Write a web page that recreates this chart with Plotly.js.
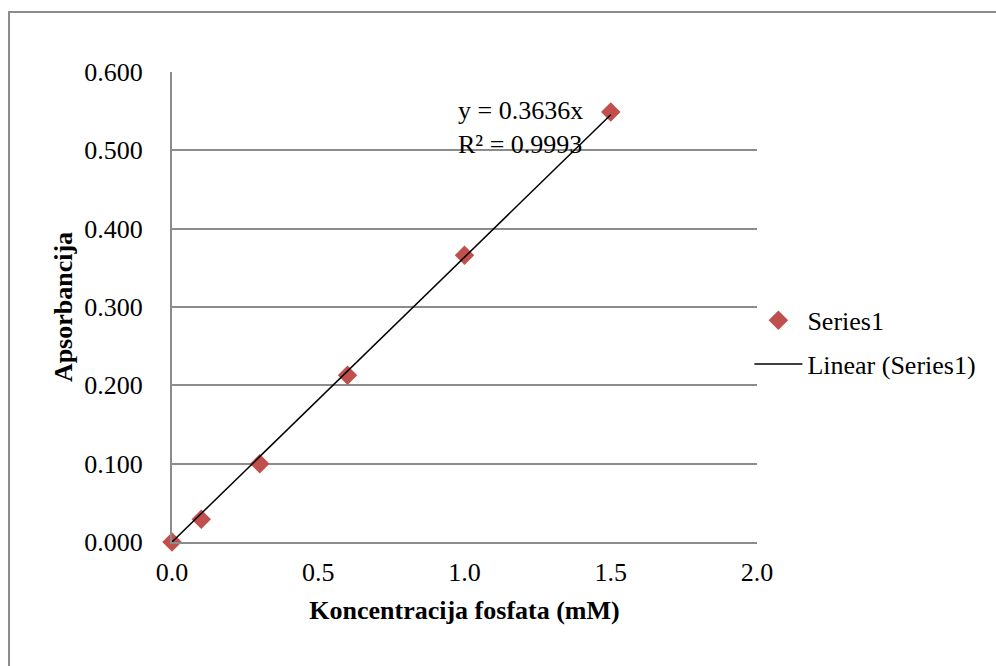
<!DOCTYPE html>
<html>
<head>
<meta charset="utf-8">
<script src="https://cdn.plot.ly/plotly-3.0.1.min.js"></script>
<style>
  html, body { margin: 0; padding: 0; background: #fff; }
  #frame { position: absolute; left: 8px; top: 11px; width: 1100px; height: 800px; border: 2px solid #8c8c8c; box-sizing: border-box; }
  #chart { position: absolute; left: 0; top: 0; width: 996px; height: 666px; }
</style>
</head>
<body>
<div id="frame"></div>
<div id="chart"></div>
<script>
const concentration = [0.0, 0.1, 0.3, 0.6, 1.0, 1.5];
const absorbance = [0.000, 0.029, 0.100, 0.213, 0.366, 0.549];
const slope = 0.3636;
const r2 = 0.9993;
const xTicks = [0.0, 0.5, 1.0, 1.5, 2.0];
const yTicks = [0.0, 0.1, 0.2, 0.3, 0.4, 0.5, 0.6];

const fitX = [0, Math.max(...concentration)];
const fitY = fitX.map(x => slope * x);

const font = '"Liberation Serif", "Times New Roman", serif';
const fs = 26;

const traces = [
  {
    x: concentration, y: absorbance, type: 'scatter', mode: 'markers', name: 'Series1',
    legendgroup: 'a', cliponaxis: false,
    marker: { symbol: 'diamond', size: 15, color: '#C0504D' }
  },
  {
    x: fitX, y: fitY, type: 'scatter', mode: 'lines', name: 'Linear (Series1)',
    legendgroup: 'b', cliponaxis: false,
    line: { color: '#000000', width: 1.5 }
  }
];

const layout = {
  width: 996, height: 666,
  margin: { l: 172, r: 239, t: 72, b: 124 },
  paper_bgcolor: 'rgba(0,0,0,0)',
  plot_bgcolor: 'rgba(0,0,0,0)',
  font: { family: font, size: fs, color: '#000' },
  showlegend: true,
  legend: { x: 0.987, y: 0.425, xanchor: 'left', yanchor: 'middle', font: { family: font, size: fs }, tracegroupgap: 7, itemwidth: 48, bgcolor: 'rgba(0,0,0,0)' },
  xaxis: {
    range: [0, 2], tickvals: xTicks, ticktext: xTicks.map(v => v.toFixed(1)),
    showgrid: false, zeroline: false, showline: true, linecolor: '#8c8c8c', linewidth: 2,
    ticks: 'outside', ticklen: 6, tickcolor: 'rgba(0,0,0,0)',
    tickfont: { family: font, size: fs },
    title: { text: '<b>Koncentracija fosfata (mM)</b>', font: { family: font, size: fs }, standoff: 15 }
  },
  yaxis: {
    range: [0, 0.6], tickvals: yTicks, ticktext: yTicks.map(v => v.toFixed(3)),
    showgrid: true, gridcolor: '#8c8c8c', gridwidth: 2, zeroline: false,
    showline: true, linecolor: '#8c8c8c', linewidth: 2,
    ticks: 'outside', ticklen: 22, tickcolor: 'rgba(0,0,0,0)',
    tickfont: { family: font, size: fs },
    title: { text: '<b>Apsorbancija</b>', font: { family: font, size: fs }, standoff: 4 }
  },
  annotations: [
    {
      x: 1.5, y: slope * 1.5, xref: 'x', yref: 'y', showarrow: false,
      xanchor: 'right', yanchor: 'bottom', xshift: -26, yshift: -46,
      align: 'left',
      text: 'y = ' + slope + 'x<br>R² = ' + r2,
      font: { family: font, size: fs, color: '#000' }
    }
  ]
};

Plotly.newPlot('chart', traces, layout, { displayModeBar: false, staticPlot: true });
</script>
</body>
</html>
